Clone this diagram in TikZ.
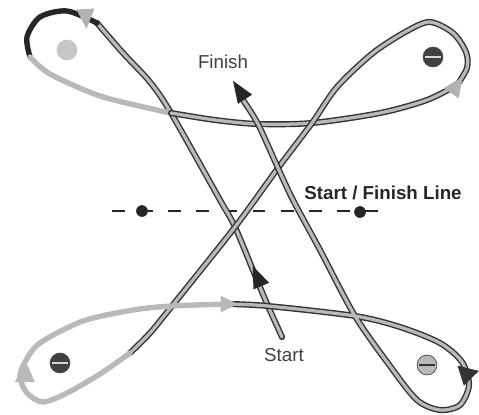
\documentclass[tikz,border=0pt]{standalone}
\usepackage{fontspec}
\setmainfont{Liberation Sans}
% arrowhead: position, angle, length, width, colour
\newcommand\racetip[5]{\fill[#5,shift={(#1)},rotate=#2] ({0.5*#3},0) -- ({-0.5*#3},{0.5*#4}) -- ({-0.5*#3},{-0.5*#4}) -- cycle;}
\begin{document}
\begin{tikzpicture}[x=0.03cm,y=-0.03cm,every node/.style={font=\fontsize{16}{19}\selectfont},
  course/.style={draw=black!80,double=gray!55,double distance=2.8pt,line width=1.2pt,line cap=round},
  pale/.style={draw=gray!55,line width=4.6pt,line cap=round},
  dark/.style={draw=black!85,line width=4.6pt,line cap=round},
  buoy/.style={circle,draw=black!70,line width=0.6pt,minimum size=17pt,inner sep=0pt},
  dot/.style={circle,fill=black!85,minimum size=10pt,inner sep=0pt}]
\useasboundingbox (0,0) rectangle (479,414);
\coordinate (s0) at (282,337); \coordinate (xBS) at (268,306); \coordinate (xC2) at (235,227); \coordinate (xTL) at (171,113);
\coordinate (xUF) at (258,124); \coordinate (xUR) at (312,123); \coordinate (xC1) at (278,168);
\coordinate (xBL) at (172,306); \coordinate (xBR) at (355,316); \coordinate (f0) at (243,100);
% start / finish line
\coordinate (dl) at (112,211); \coordinate (dr) at (386,211);
\draw[black!85,line width=2.2pt,dash pattern=on 11pt off 13pt] (dl) -- (dr);
\node[dot] (d1) at (142,211) {}; \node[dot] (d2) at (360,212) {};
% buoys
\node[buoy,draw=gray!45,fill=gray!45] (b1) at (67,50) {};
\node[buoy,fill=black!75] (b2) at (433,57) {}; \draw[gray!30,line width=1pt] ([xshift=2pt]b2.west) -- ([xshift=-2pt]b2.east);
\node[buoy,fill=black!75] (b3) at (60,363) {}; \draw[gray!35,line width=1.2pt] ([xshift=2pt]b3.west) -- ([xshift=-2pt]b3.east);
\node[buoy,fill=gray!55] (b4) at (427,365) {}; \draw[black!80,line width=1.2pt] ([xshift=2pt]b4.west) -- ([xshift=-2pt]b4.east);
% course
\draw[course] plot[smooth] coordinates {(s0) (xBS) (257,280) (xC2) (220,200) (xTL) (150,82) (123,53) (97,23)};
\draw[dark] plot[smooth] coordinates {(97,23) (67,11) (40,17) (27,37) (30,57)};
\draw[pale] plot[smooth] coordinates {(30,57) (50,74) (100,96) (157,110) (xTL)};
\draw[course] plot[smooth] coordinates {(xTL) (215,120) (xUF) (xUR) (380,113) (427,100) (457,85)};
\draw[course] plot[smooth] coordinates {(457,85) (467,68) (466,52) (453,33) (430,22) (407,31) (373,53) (337,87) (xUR) (xC1) (xC2) (xBL) (150,333) (130,353)};
\draw[pale] plot[smooth] coordinates {(130,353) (100,374) (67,393) (43,402) (27,393) (20,377) (25,362) (40,343) (83,321) (133,310) (xBL) (229,304)};
\draw[course] plot[smooth] coordinates {(229,304) (xBS) (xBR) (400,327) (440,343) (462,362) (469,385) (460,405) (440,410) (417,400) (390,366) (xBR) (320,250) (293,200) (xC1) (xUF) (f0)};
% arrowheads
\racetip{239,90}{123}{22}{17}{black!85} \racetip{257,276}{113}{22}{17}{black!85}
\racetip{86,19}{-87}{20}{18}{gray!60} \racetip{457,85}{55}{20}{18}{gray!60}
\racetip{25,371}{90}{22}{20}{gray!55} \racetip{229,304}{0}{17}{17}{gray!55}
\racetip{466,377}{-104}{18}{22}{black!80}
% labels
\node[text=black!75] (fin) at (223,62) {Finish};
\node[text=black!75] (sta) at (284,355) {Start};
\node[font=\bfseries\fontsize{16}{19}\selectfont,text=black!85] (sfl) at (383,193) {Start / Finish Line};
\end{tikzpicture}
\end{document}
